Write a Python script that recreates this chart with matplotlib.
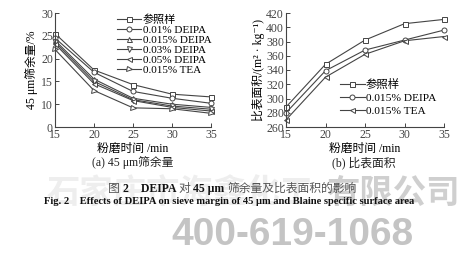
import matplotlib
matplotlib.use("Agg")
import matplotlib.pyplot as plt
from matplotlib.text import Annotation

plt.rcParams['font.family'] = ['Liberation Serif', 'Noto Sans CJK SC', 'DejaVu Serif']

time_min = [15, 20, 25, 30, 35]

# (a) 45 um sieve residue, %
sieve_labels = ['参照样', '0.01% DEIPA', '0.015% DEIPA', '0.03% DEIPA', '0.05% DEIPA', '0.015% TEA']
sieve_ref = [25.5, 17.5, 14.3, 12.2, 11.6]
sieve_d001 = [24.5, 17.0, 12.8, 11.3, 10.2]
sieve_d0015 = [24.0, 15.5, 11.3, 10.0, 9.3]
sieve_d003 = [23.6, 15.0, 11.0, 9.6, 8.9]
sieve_d005 = [23.2, 14.5, 10.8, 9.3, 8.5]
sieve_tea = [22.0, 13.0, 9.2, 9.0, 8.0]
sieve_markers = ['s', 'o', '^', 'v', '<', '>']

# (b) specific surface area, m2/kg
ssa_labels = ['参照样', '0.015% DEIPA', '0.015% TEA']
ssa_ref = [288, 348, 382, 405, 411]
ssa_deipa = [280, 339, 368, 382, 396]
ssa_tea = [270, 330, 362, 381, 387]
ssa_markers = ['s', 'o', '<']

left_ticks = [5, 10, 15, 20, 25, 30]
left_ticklabels = ['0', '10', '15', '20', '25', '30']
right_ticks = [260, 280, 300, 320, 340, 360, 380, 400, 420]

caption_cn = [('图 ', 'normal'), ('2    DEIPA ', 'bold'), ('对 ', 'normal'), ('45 μm ', 'bold'),
              ('筛余量及比表面积的影响', 'normal')]
caption_en = 'Fig. 2    Effects of DEIPA on sieve margin of 45 μm and Blaine specific surface area'

W, H = 474, 256
fig = plt.figure(figsize=(W / 100, H / 100), dpi=100)

lc = '#444444'
tick_fs = 8.5


def setup(ax):
    for s in ['top', 'right']:
        ax.spines[s].set_visible(False)
    for s in ['left', 'bottom']:
        ax.spines[s].set_color(lc)
        ax.spines[s].set_linewidth(0.8)
    ax.tick_params(direction='in', length=3, width=0.7, colors=lc, labelsize=tick_fs, pad=1.5)
    ax.set_xlim(15, 35)
    ax.set_xticks(time_min)


ax1 = fig.add_axes([55 / W, 1 - 127 / H, (211 - 55) / W, (127 - 13) / H])
setup(ax1)
for vals, lab, m in zip([sieve_ref, sieve_d001, sieve_d0015, sieve_d003, sieve_d005, sieve_tea],
                        sieve_labels, sieve_markers):
    ax1.plot(time_min, vals, color=lc, lw=0.8, marker=m, ms=3.6, mfc='white', mec=lc, mew=0.7,
             label=lab, clip_on=False)
ax1.set_ylim(5, 30)
ax1.set_yticks(left_ticks)
ax1.set_yticklabels(left_ticklabels)
ax1.set_ylabel('45 μm筛余量/%', fontsize=8.5, labelpad=2)
ax1.set_xlabel('粉磨时间 /min', fontsize=8.5, labelpad=1)
ax1.legend(loc='upper right', bbox_to_anchor=(1.03, 1.03), frameon=False, fontsize=8,
           handlelength=2.2, handletextpad=0.1, labelspacing=0.02, borderaxespad=0)
fig.text(133 / W, 1 - 163 / H, '(a) 45 μm筛余量', fontsize=8.5, ha='center', va='center', color='#222222')

ax2 = fig.add_axes([286 / W, 1 - 127 / H, (444 - 286) / W, (127 - 13) / H])
setup(ax2)
for vals, lab, m in zip([ssa_ref, ssa_deipa, ssa_tea], ssa_labels, ssa_markers):
    ax2.plot(time_min, vals, color=lc, lw=0.8, marker=m, ms=3.6, mfc='white', mec=lc, mew=0.7,
             label=lab, clip_on=False)
ax2.set_ylim(260, 420)
ax2.set_yticks(right_ticks)
ax2.set_ylabel('比表面积/(m² · kg⁻¹)', fontsize=8.5, labelpad=1)
ax2.set_xlabel('粉磨时间 /min', fontsize=8.5, labelpad=1)
ax2.legend(loc='lower right', bbox_to_anchor=(0.98, 0.06), frameon=False, fontsize=8.2,
           handlelength=2.2, handletextpad=0.1, labelspacing=0.25, borderaxespad=0)
fig.text(364 / W, 1 - 163 / H, '(b) 比表面积', fontsize=8.5, ha='center', va='center', color='#222222')

# watermark
fig.text(47 / W, 1 - 193 / H, '石家庄市海鑫化工', fontsize=24, color='#eeeeee', ha='left', va='center',
         family=['Noto Sans CJK SC'], fontweight='bold', zorder=0)
fig.text(460 / W, 1 - 193 / H, '有限公司', fontsize=24, color='#cfcfcf', ha='right', va='center',
         family=['Noto Sans CJK SC'], fontweight='bold', zorder=0)
fig.text(292 / W, 1 - 235 / H, '400-619-1068', fontsize=28, color='#c4c4c4', ha='center', va='center',
         family=['Liberation Sans'], fontweight='bold', zorder=0)

# Chinese caption: chained segments with mixed weight
anchor = None
for txt, wt in caption_cn:
    col = '#111111' if wt == 'bold' else '#555555'
    if anchor is None:
        anchor = fig.text(108 / W, 1 - 189 / H, txt, fontsize=8.5, ha='left', va='center',
                          color=col, fontweight=wt, zorder=5)
    else:
        anchor = fig.add_artist(Annotation(
            txt, xy=(1, 0.5), xycoords=anchor, xytext=(0, 0), textcoords='offset points',
            ha='left', va='center', fontsize=8.5, color=col, fontweight=wt, zorder=5))

fig.text(229 / W, 1 - 201 / H, caption_en,
         fontsize=7.6, ha='center', va='center', color='#111111', fontweight='bold', zorder=5)

fig.savefig('out.png', dpi=100, facecolor='white')
